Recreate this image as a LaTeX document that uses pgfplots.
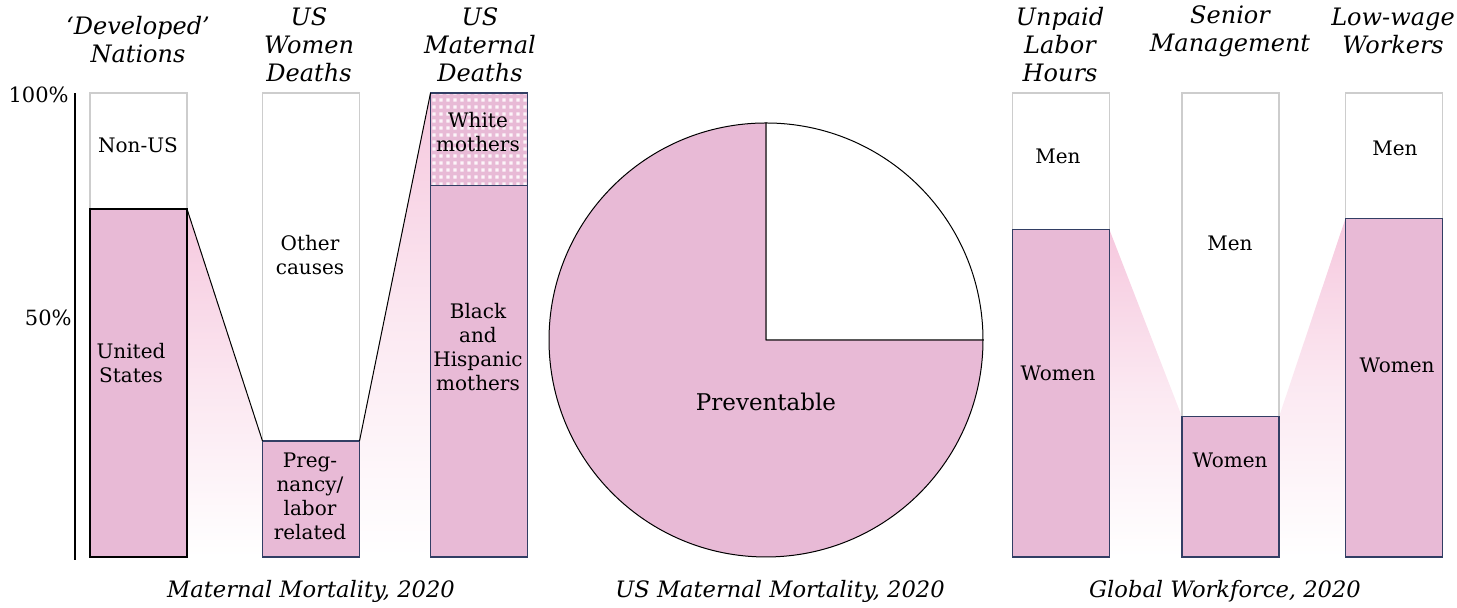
\documentclass[border=0pt]{standalone}
\usepackage{pgfplots}
\pgfplotsset{compat=1.18}
\usepackage{pgfplotstable}
\usepackage{fontspec}
\setmainfont{DejaVu Serif}
\usetikzlibrary{patterns.meta}
\definecolor{barpink}{RGB}{232,186,214}
\definecolor{glow}{RGB}{246,200,222}
\definecolor{edge}{RGB}{50,62,100}
\definecolor{lgray}{RGB}{205,205,205}
\tikzdeclarepattern{
  name=sqdots,
  type=uncolored,
  bottom left={(0,0)},
  top right={(3.6bp,3.6bp)},
  tile size={(3.6bp,3.6bp)},
  code={\fill (0.7bp,0.7bp) rectangle (2.5bp,2.5bp);}
}
% left group: share of women / pregnancy / Black and Hispanic (%)
\pgfplotstableread{
x      low
138.5  75
311    25
479    80
}\groupA
% right group: women share (%)
\pgfplotstableread{
x      low
1061   70.5
1230.5 30.2
1394   73
}\groupB
\newcommand{\titlefont}{\fontsize{12bp}{14bp}\selectfont\itshape}
\newcommand{\lblfont}{\fontsize{10bp}{12bp}\selectfont}
\newcommand{\capfont}{\fontsize{11.3bp}{14bp}\selectfont\itshape}
\begin{document}
\begin{tikzpicture}
\begin{axis}[name=main, scale only axis, width=728.5bp, height=304bp,
  xmin=0, xmax=1457, ymin=-10.99, ymax=120.04, hide axis, clip=false]
% glow areas under connectors
\addplot[draw=none, top color=glow, bottom color=white, middle color=glow!45!white] coordinates {(187,75) (262.5,25)} \closedcycle;
\addplot[draw=none, top color=glow, bottom color=white, middle color=glow!40!white] coordinates {(359.5,25) (430.5,100)} \closedcycle;
\addplot[draw=none, top color=glow, bottom color=white, middle color=glow!40!white] coordinates {(1109.5,70.5) (1182,30.2)} \closedcycle;
\addplot[draw=none, top color=glow, bottom color=white, middle color=glow!40!white] coordinates {(1279,30.2) (1345.5,73)} \closedcycle;
% full bars (100%)
\addplot[ybar, bar width=97, bar shift=0pt, fill=white, draw=lgray, line width=0.75bp] table[x=x, y expr=100] {\groupA};
\addplot[ybar, bar width=97, bar shift=0pt, fill=white, draw=lgray, line width=0.75bp] table[x=x, y expr=100] {\groupB};
% white mothers segment (patterned)
\addplot[ybar, bar width=97, bar shift=0pt, fill=barpink, draw=none] coordinates {(479,100)};
\addplot[ybar, bar width=97, bar shift=0pt, pattern=sqdots, pattern color=white!85!barpink, draw=edge, line width=0.6bp] coordinates {(479,100)};
% pink segments
\addplot[ybar, bar width=97, bar shift=0pt, fill=barpink, draw=edge, line width=0.6bp] table[x=x, y=low] {\groupA};
\addplot[ybar, bar width=97, bar shift=0pt, fill=barpink, draw=edge, line width=0.6bp] table[x=x, y=low] {\groupB};
% first bar outlined in black
\addplot[ybar, bar width=97, bar shift=0pt, fill=barpink, draw=black, line width=0.6bp] coordinates {(138.5,75)};
% connector lines
\addplot[black, line width=0.5bp] coordinates {(187,75) (262.5,25)};
\addplot[black, line width=0.5bp] coordinates {(359.5,25) (430.5,100)};
% pie: 75% preventable
\filldraw[fill=barpink, draw=black, line width=0.5bp] (axis cs:766,46.77) -- ++(90:108.5bp) arc[start angle=90, delta angle={360*0.75}, radius=108.5bp] -- cycle;
\filldraw[fill=white, draw=black, line width=0.5bp] (axis cs:766,46.77) -- ++(0:108.5bp) arc[start angle=0, delta angle={360*0.25}, radius=108.5bp] -- cycle;
% y axis
\draw[line width=1bp] (axis cs:75,-0.6) -- (axis cs:75,100);
\node[anchor=east, font=\fontsize{10.5bp}{13bp}\selectfont, inner sep=0pt] at (axis cs:69,{(557-95)/4.64}) {100\%};
\node[anchor=east, font=\fontsize{10.5bp}{13bp}\selectfont, inner sep=0pt] at (axis cs:72,{(557-318)/4.64}) {50\%};
% titles
\node[align=center, font=\titlefont, inner sep=0pt] at (axis cs:138,{(557-40)/4.64}) {`Developed'\\Nations};
\node[align=center, font=\titlefont, inner sep=0pt] at (axis cs:309,{(557-45)/4.64}) {US\\Women\\Deaths};
\node[align=center, font=\titlefont, inner sep=0pt] at (axis cs:480,{(557-45)/4.64}) {US\\Maternal\\Deaths};
\node[align=center, font=\titlefont, inner sep=0pt] at (axis cs:1060,{(557-45)/4.64}) {Unpaid\\Labor\\Hours};
\node[align=center, font=\titlefont, inner sep=0pt] at (axis cs:1230,{(557-31)/4.64}) {Senior\\Management};
\node[align=center, font=\titlefont, inner sep=0pt] at (axis cs:1393,{(557-31)/4.64}) {Low-wage\\Workers};
% bar labels
\node[align=center, font=\lblfont] at (axis cs:138,{(557-145)/4.64}) {Non-US};
\node[align=center, font=\lblfont] at (axis cs:131,{(557-363)/4.64}) {United\\States};
\node[align=center, font=\lblfont] at (axis cs:310,{(557-255)/4.64}) {Other\\causes};
\node[align=center, font=\lblfont] at (axis cs:310,{(557-496)/4.64}) {Preg-\\nancy/\\labor\\related};
\node[align=center, font=\lblfont] at (axis cs:478,{(557-132)/4.64}) {White\\mothers};
\node[align=center, font=\lblfont] at (axis cs:478,{(557-347.5)/4.64}) {Black\\and\\Hispanic\\mothers};
\node[font=\fontsize{11.5bp}{14bp}\selectfont] at (axis cs:766,{(557-402)/4.64}) {Preventable};
\node[font=\lblfont] at (axis cs:1058,{(557-156)/4.64}) {Men};
\node[font=\lblfont] at (axis cs:1058,{(557-373)/4.64}) {Women};
\node[font=\lblfont] at (axis cs:1230,{(557-243)/4.64}) {Men};
\node[font=\lblfont] at (axis cs:1230,{(557-460)/4.64}) {Women};
\node[font=\lblfont] at (axis cs:1395,{(557-148)/4.64}) {Men};
\node[font=\lblfont] at (axis cs:1397,{(557-365)/4.64}) {Women};
% captions
\node[font=\capfont] at (axis cs:311,{(557-591)/4.64}) {Maternal Mortality, 2020};
\node[font=\capfont] at (axis cs:780,{(557-591)/4.64}) {US Maternal Mortality, 2020};
\node[font=\capfont] at (axis cs:1225,{(557-591)/4.64}) {Global Workforce, 2020};
\end{axis}
\pgfresetboundingbox
\path (main.south west) rectangle (main.north east);
\end{tikzpicture}
\end{document}
